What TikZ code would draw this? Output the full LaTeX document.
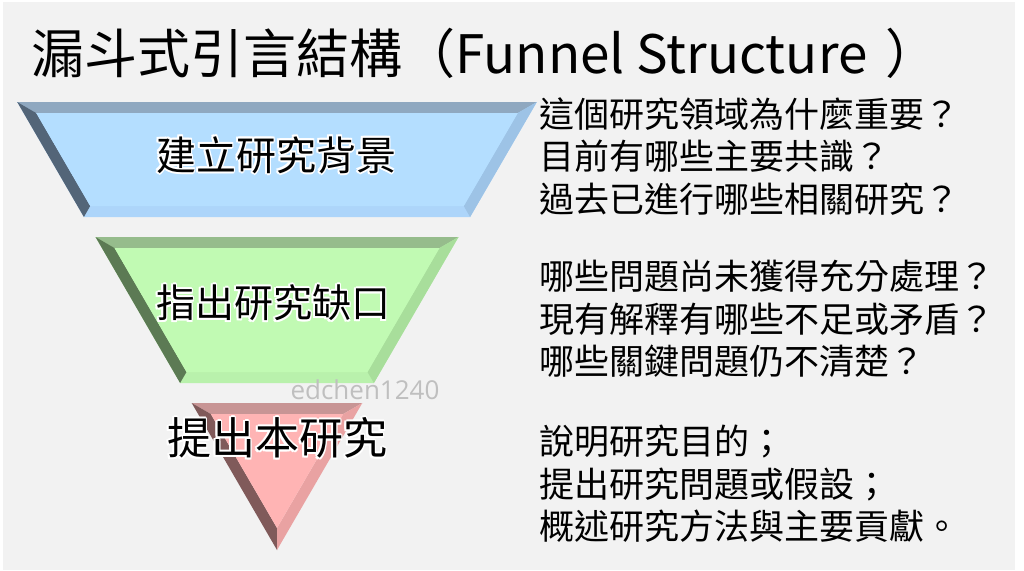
\documentclass[tikz,border=0pt]{standalone}
\usepackage{fontspec}
\setmainfont{Noto Sans CJK TC}
\newfontfamily\markfont{Open Sans}
\usepackage{tikz}

\definecolor{slidebg}{HTML}{F2F2F2}
% blue piece
\definecolor{bluef}{HTML}{B4DEFF}
\definecolor{bluet}{HTML}{8FA8C0}
\definecolor{bluel}{HTML}{536578}
\definecolor{bluer}{HTML}{9DC3E6}
\definecolor{blueb}{HTML}{ADD5FA}
% green piece
\definecolor{greenf}{HTML}{C1FAB3}
\definecolor{greent}{HTML}{96BC8C}
\definecolor{greenl}{HTML}{5C7A54}
\definecolor{greenr}{HTML}{A8DE9B}
\definecolor{greenb}{HTML}{B9F1AC}
% red piece
\definecolor{redf}{HTML}{FFB4B4}
\definecolor{redt}{HTML}{C89595}
\definecolor{redl}{HTML}{805A5A}
\definecolor{redr}{HTML}{E9A2A2}

% white glow round a label
\newcommand{\halo}[1]{{\def\hh##1##2{\rlap{\kern##1pt\raisebox{##2pt}{\color{white}#1}}}%
  \hh{1.9}{0}\hh{-1.9}{0}\hh{0}{1.9}\hh{0}{-1.9}%
  \hh{1.35}{1.35}\hh{-1.35}{1.35}\hh{1.35}{-1.35}\hh{-1.35}{-1.35}#1}}

\tikzset{
  titletext/.style={anchor=base west, inner sep=0pt, font=\fontsize{53}{60}\selectfont},
  piecelabel/.style={inner sep=0pt},
  question/.style={anchor=north west, inner sep=0pt, align=left,
    font=\fontsize{35}{42.5}\selectfont},
}

\begin{document}
\begin{tikzpicture}[x=1pt, y=-1pt]
\useasboundingbox (0,0) rectangle (1024,570);
\fill[white] (0,0) rectangle (1024,570);
\fill[slidebg] (3,2) rectangle (1015,570);

\node[titletext] (title) at (31,73) {漏斗式引言結構（Funnel Structure\kern18pt）};

% top piece
\coordinate (b-otl) at (17.2,102);
\coordinate (b-otr) at (536.8,102);
\coordinate (b-obl) at (83.9,217);
\coordinate (b-obr) at (470.1,217);
\coordinate (b-itl) at (36.2,113);
\coordinate (b-itr) at (517.8,113);
\coordinate (b-ibl) at (90.2,206);
\coordinate (b-ibr) at (463.8,206);
\fill[blueb] (b-otl) -- (b-otr) -- (b-obr) -- (b-obl) -- cycle;
\fill[bluet] (b-otl) -- (b-otr) -- (b-itr) -- (b-itl) -- cycle;
\fill[bluel] (b-otl) -- (b-itl) -- (b-ibl) -- (b-obl) -- cycle;
\fill[bluer] (b-otr) -- (b-obr) -- (b-ibr) -- (b-itr) -- cycle;
\fill[bluef] (b-itl) -- (b-itr) -- (b-ibr) -- (b-ibl) -- cycle;

% middle piece
\coordinate (g-otl) at (95.5,237);
\coordinate (g-otr) at (458.5,237);
\coordinate (g-obl) at (180.1,383);
\coordinate (g-obr) at (373.9,383);
\coordinate (g-itl) at (114.5,248);
\coordinate (g-itr) at (439.5,248);
\coordinate (g-ibl) at (186.5,372);
\coordinate (g-ibr) at (367.5,372);
\fill[greenb] (g-otl) -- (g-otr) -- (g-obr) -- (g-obl) -- cycle;
\fill[greent] (g-otl) -- (g-otr) -- (g-itr) -- (g-itl) -- cycle;
\fill[greenl] (g-otl) -- (g-itl) -- (g-ibl) -- (g-obl) -- cycle;
\fill[greenr] (g-otr) -- (g-obr) -- (g-ibr) -- (g-itr) -- cycle;
\fill[greenf] (g-itl) -- (g-itr) -- (g-ibr) -- (g-ibl) -- cycle;

% bottom piece
\coordinate (r-otl) at (191.7,403);
\coordinate (r-otr) at (362.3,403);
\coordinate (r-tip) at (277,550);
\coordinate (r-itl) at (210.8,414);
\coordinate (r-itr) at (343.2,414);
\coordinate (r-itip) at (277,528);
\fill[redt] (r-otl) -- (r-otr) -- (r-itr) -- (r-itl) -- cycle;
\fill[redl] (r-otl) -- (r-itl) -- (r-itip) -- (r-tip) -- cycle;
\fill[redr] (r-otr) -- (r-tip) -- (r-itip) -- (r-itr) -- cycle;
\fill[redf] (r-itl) -- (r-itr) -- (r-itip) -- cycle;

\node[font=\markfont\fontsize{26}{30}\selectfont, text=black!25, inner sep=0pt] (mark) at (365,390) {edchen1240};

\node[piecelabel, font=\fontsize{40}{44}\selectfont] (background) at (276,155) {\halo{建立研究背景}};
\node[piecelabel, font=\fontsize{39}{44}\selectfont] (gap) at (273,303) {\halo{指出研究缺口}};
\node[piecelabel, font=\fontsize{44}{48}\selectfont] (study) at (277,438) {\halo{提出本研究}};

\node[question] (background-q) at (539,97) {這個研究領域為什麼重要？\\目前有哪些主要共識？\\過去已進行哪些相關研究？};
\node[question] (gap-q) at (539,260) {哪些問題尚未獲得充分處理？\\現有解釋有哪些不足或矛盾？\\哪些關鍵問題仍不清楚？};
\node[question] (study-q) at (539,425) {說明研究目的；\\提出研究問題或假設；\\概述研究方法與主要貢獻。};

\end{tikzpicture}
\end{document}
